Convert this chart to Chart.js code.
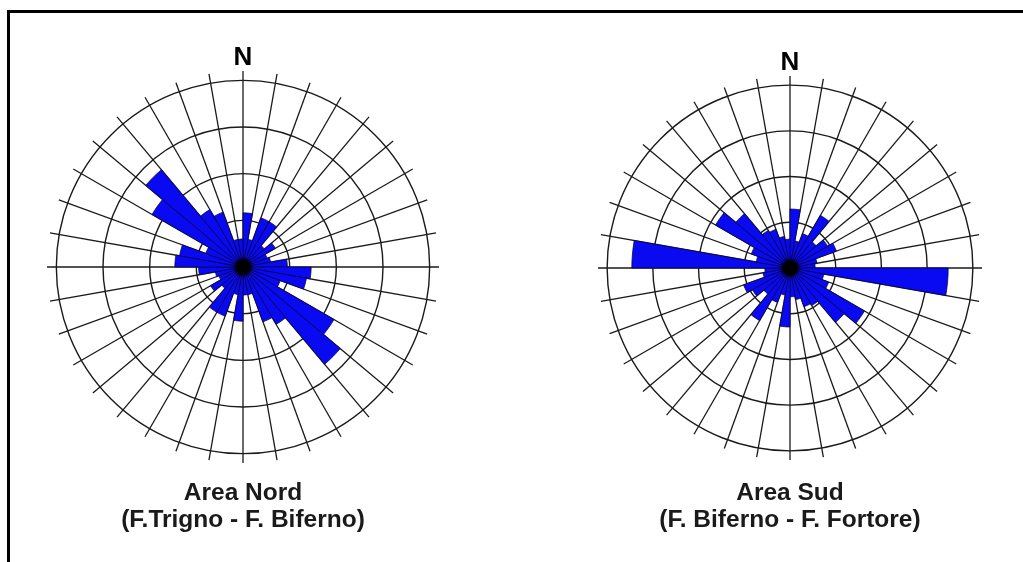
<!DOCTYPE html>
<html>
<head>
<meta charset="utf-8">
<script src="https://cdn.jsdelivr.net/npm/chart.js@4/dist/chart.umd.min.js"></script>
<style>
body { margin: 0; background: #fff; width: 1023px; height: 562px; overflow: hidden; position: relative; }
#frame { position: absolute; left: 7px; top: 10px; width: 1100px; height: 700px; border-left: 3px solid #000; border-top: 3px solid #000; }
.box { position: absolute; }
</style>
</head>
<body>
<div id="frame"></div>
<div class="box" style="left:33px; top:45px;"><canvas id="nord" width="420" height="499"></canvas></div>
<div class="box" style="left:580px; top:50px;"><canvas id="sud" width="420" height="494"></canvas></div>
<script>
// 10 degree bins, clockwise from north
var bins = ['0', '10', '20', '30', '40', '50', '60', '70', '80', '90', '100', '110',
    '120', '130', '140', '150', '160', '170', '180', '190', '200', '210', '220', '230',
    '240', '250', '260', '270', '280', '290', '300', '310', '320', '330', '340', '350'];

// petal lengths (ring units)
var nordValues = [1.16, 0.6, 1.12, 1.12, 0.6, 0.8, 0.55, 0.6, 0.95, 1.46, 1.38, 0.85,
    2.25, 2.72, 1.42, 1.25, 0.6, 0.6,
    1.16, 0.6, 1.12, 1.12, 0.6, 0.8, 0.55, 0.6, 0.95, 1.46, 1.38, 0.85,
    2.25, 2.72, 1.42, 1.25, 0.6, 0.6];
var sudValues = [1.29, 0.6, 0.8, 1.33, 0.75, 0.95, 1.08, 0.6, 0.55, 3.46, 0.75, 0.9,
    1.88, 1.55, 0.95, 0.9, 0.7, 0.63,
    1.29, 0.6, 0.8, 1.33, 0.75, 0.95, 1.08, 0.6, 0.55, 3.46, 0.75, 0.9,
    1.88, 1.55, 0.95, 0.9, 0.7, 0.63];

var ringMax = 4.2; // spokes run a little past the last ring (4)

var centerDot = { // black blob where all the petal edges meet
    id: 'centerDot',
    afterDatasetsDraw: function (chart) {
        var s = chart.scales.r;
        var ctx = chart.ctx;
        var g = ctx.createRadialGradient(s.xCenter, s.yCenter, 0, s.xCenter, s.yCenter, 11);
        g.addColorStop(0, '#000');
        g.addColorStop(0.6, '#000');
        g.addColorStop(1, 'rgba(0,0,40,0)');
        ctx.save();
        ctx.fillStyle = g;
        ctx.beginPath();
        ctx.arc(s.xCenter, s.yCenter, 11, 0, Math.PI * 2);
        ctx.fill();
        ctx.restore();
    }
};

function makeRose(id, values, caption, capPad) {
    var ctx = document.getElementById(id);
    return new Chart(ctx, {
        type: 'polarArea',
        data: {
            labels: bins,
            datasets: [{
                data: values,
                backgroundColor: '#0a0af2',
                borderColor: '#06064a',
                borderWidth: 0.8
            }]
        },
        options: {
            responsive: false,
            animation: false,
            layout: { padding: 0 },
            scales: {
                r: {
                    min: 0,
                    max: ringMax,
                    startAngle: 0,
                    ticks: { display: false, stepSize: 1 },
                    grid: {
                        circular: true,
                        lineWidth: 1.4,
                        color: function (c) { return c.tick && c.tick.value > 4.01 ? 'rgba(0,0,0,0)' : '#1a1a1a'; }
                    },
                    angleLines: { display: true, color: '#1a1a1a', lineWidth: 1.3 },
                    pointLabels: { display: false }
                }
            },
            plugins: {
                legend: { display: false },
                tooltip: { enabled: false },
                title: {
                    display: true,
                    text: 'N',
                    color: '#000',
                    padding: { top: 0, bottom: 0 },
                    font: { family: '"Liberation Sans", Arial, sans-serif', size: 26, weight: 'bold', lineHeight: 1 }
                },
                subtitle: {
                    display: true,
                    position: 'bottom',
                    text: caption,
                    color: '#1a1a1a',
                    padding: { top: capPad, bottom: 10 },
                    font: { family: '"Liberation Sans", Arial, sans-serif', size: 24.5, weight: 'bold', lineHeight: 1.1 }
                }
            }
        },
        plugins: [centerDot]
    });
}

makeRose('nord', nordValues, ['Area Nord', '(F.Trigno - F. Biferno)'], 16.4);
makeRose('sud', sudValues, ['Area Sud', '(F. Biferno - F. Fortore)'], 19.4);
</script>
</body>
</html>
